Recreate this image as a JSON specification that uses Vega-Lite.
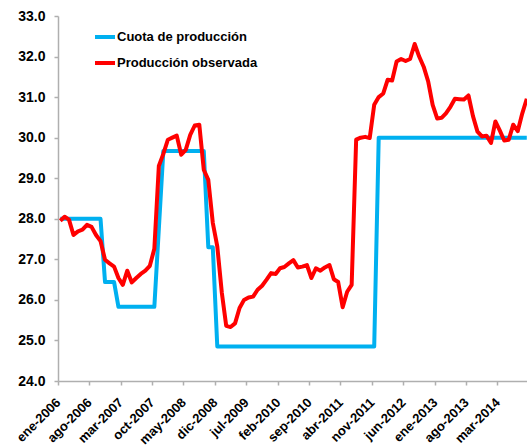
{
  "$schema": "https://vega.github.io/schema/vega-lite/v6.json",
  "width": 471,
  "height": 365,
  "autosize": "none",
  "padding": {"left": 58, "top": 16, "right": 0, "bottom": 66},
  "background": "white",
  "config": {
    "view": {"stroke": null},
    "font": "Liberation Sans",
    "axis": {
      "domainColor": "#AFAFAF",
      "tickColor": "#AFAFAF",
      "domainWidth": 1.5,
      "tickWidth": 1.5,
      "labelColor": "#000000",
      "labelFont": "Liberation Sans",
      "labelFontWeight": "bold",
      "grid": false,
      "title": null
    }
  },
  "data": {
    "values": [
      {"fecha": "2006-01", "cuota": 28.0, "observada": 27.95},
      {"fecha": "2006-02", "cuota": 28.0, "observada": 28.05},
      {"fecha": "2006-03", "cuota": 28.0, "observada": 27.98},
      {"fecha": "2006-04", "cuota": 28.0, "observada": 27.6},
      {"fecha": "2006-05", "cuota": 28.0, "observada": 27.69},
      {"fecha": "2006-06", "cuota": 28.0, "observada": 27.73},
      {"fecha": "2006-07", "cuota": 28.0, "observada": 27.85},
      {"fecha": "2006-08", "cuota": 28.0, "observada": 27.8},
      {"fecha": "2006-09", "cuota": 28.0, "observada": 27.6},
      {"fecha": "2006-10", "cuota": 28.0, "observada": 27.45},
      {"fecha": "2006-11", "cuota": 26.44, "observada": 26.99},
      {"fecha": "2006-12", "cuota": 26.44, "observada": 26.9},
      {"fecha": "2007-01", "cuota": 26.44, "observada": 26.82},
      {"fecha": "2007-02", "cuota": 25.83, "observada": 26.54},
      {"fecha": "2007-03", "cuota": 25.83, "observada": 26.37},
      {"fecha": "2007-04", "cuota": 25.83, "observada": 26.72},
      {"fecha": "2007-05", "cuota": 25.83, "observada": 26.43},
      {"fecha": "2007-06", "cuota": 25.83, "observada": 26.54},
      {"fecha": "2007-07", "cuota": 25.83, "observada": 26.64},
      {"fecha": "2007-08", "cuota": 25.83, "observada": 26.72},
      {"fecha": "2007-09", "cuota": 25.83, "observada": 26.84},
      {"fecha": "2007-10", "cuota": 25.83, "observada": 27.26},
      {"fecha": "2007-11", "cuota": 27.75, "observada": 29.3},
      {"fecha": "2007-12", "cuota": 29.67, "observada": 29.6},
      {"fecha": "2008-01", "cuota": 29.67, "observada": 29.95},
      {"fecha": "2008-02", "cuota": 29.67, "observada": 30.0},
      {"fecha": "2008-03", "cuota": 29.67, "observada": 30.05},
      {"fecha": "2008-04", "cuota": 29.67, "observada": 29.58},
      {"fecha": "2008-05", "cuota": 29.67, "observada": 29.7},
      {"fecha": "2008-06", "cuota": 29.67, "observada": 30.07},
      {"fecha": "2008-07", "cuota": 29.67, "observada": 30.3},
      {"fecha": "2008-08", "cuota": 29.67, "observada": 30.32},
      {"fecha": "2008-09", "cuota": 29.67, "observada": 29.21},
      {"fecha": "2008-10", "cuota": 27.3, "observada": 28.96},
      {"fecha": "2008-11", "cuota": 27.3, "observada": 27.9},
      {"fecha": "2008-12", "cuota": 24.85, "observada": 27.32},
      {"fecha": "2009-01", "cuota": 24.85, "observada": 26.17},
      {"fecha": "2009-02", "cuota": 24.85, "observada": 25.36},
      {"fecha": "2009-03", "cuota": 24.85, "observada": 25.33},
      {"fecha": "2009-04", "cuota": 24.85, "observada": 25.42},
      {"fecha": "2009-05", "cuota": 24.85, "observada": 25.8},
      {"fecha": "2009-06", "cuota": 24.85, "observada": 26.0},
      {"fecha": "2009-07", "cuota": 24.85, "observada": 26.06},
      {"fecha": "2009-08", "cuota": 24.85, "observada": 26.08},
      {"fecha": "2009-09", "cuota": 24.85, "observada": 26.25},
      {"fecha": "2009-10", "cuota": 24.85, "observada": 26.35},
      {"fecha": "2009-11", "cuota": 24.85, "observada": 26.5},
      {"fecha": "2009-12", "cuota": 24.85, "observada": 26.66},
      {"fecha": "2010-01", "cuota": 24.85, "observada": 26.64},
      {"fecha": "2010-02", "cuota": 24.85, "observada": 26.78},
      {"fecha": "2010-03", "cuota": 24.85, "observada": 26.81},
      {"fecha": "2010-04", "cuota": 24.85, "observada": 26.9},
      {"fecha": "2010-05", "cuota": 24.85, "observada": 26.98},
      {"fecha": "2010-06", "cuota": 24.85, "observada": 26.8},
      {"fecha": "2010-07", "cuota": 24.85, "observada": 26.82},
      {"fecha": "2010-08", "cuota": 24.85, "observada": 26.86},
      {"fecha": "2010-09", "cuota": 24.85, "observada": 26.54},
      {"fecha": "2010-10", "cuota": 24.85, "observada": 26.78},
      {"fecha": "2010-11", "cuota": 24.85, "observada": 26.72},
      {"fecha": "2010-12", "cuota": 24.85, "observada": 26.8},
      {"fecha": "2011-01", "cuota": 24.85, "observada": 26.86},
      {"fecha": "2011-02", "cuota": 24.85, "observada": 26.51},
      {"fecha": "2011-03", "cuota": 24.85, "observada": 26.44},
      {"fecha": "2011-04", "cuota": 24.85, "observada": 25.82},
      {"fecha": "2011-05", "cuota": 24.85, "observada": 26.2},
      {"fecha": "2011-06", "cuota": 24.85, "observada": 26.37},
      {"fecha": "2011-07", "cuota": 24.85, "observada": 29.95},
      {"fecha": "2011-08", "cuota": 24.85, "observada": 30.0},
      {"fecha": "2011-09", "cuota": 24.85, "observada": 30.02},
      {"fecha": "2011-10", "cuota": 24.85, "observada": 29.99},
      {"fecha": "2011-11", "cuota": 24.85, "observada": 30.81},
      {"fecha": "2011-12", "cuota": 30.0, "observada": 31.0},
      {"fecha": "2012-01", "cuota": 30.0, "observada": 31.09},
      {"fecha": "2012-02", "cuota": 30.0, "observada": 31.43},
      {"fecha": "2012-03", "cuota": 30.0, "observada": 31.41},
      {"fecha": "2012-04", "cuota": 30.0, "observada": 31.88},
      {"fecha": "2012-05", "cuota": 30.0, "observada": 31.94},
      {"fecha": "2012-06", "cuota": 30.0, "observada": 31.89},
      {"fecha": "2012-07", "cuota": 30.0, "observada": 31.94},
      {"fecha": "2012-08", "cuota": 30.0, "observada": 32.31},
      {"fecha": "2012-09", "cuota": 30.0, "observada": 32.0},
      {"fecha": "2012-10", "cuota": 30.0, "observada": 31.75},
      {"fecha": "2012-11", "cuota": 30.0, "observada": 31.39},
      {"fecha": "2012-12", "cuota": 30.0, "observada": 30.81},
      {"fecha": "2013-01", "cuota": 30.0, "observada": 30.47},
      {"fecha": "2013-02", "cuota": 30.0, "observada": 30.49},
      {"fecha": "2013-03", "cuota": 30.0, "observada": 30.6},
      {"fecha": "2013-04", "cuota": 30.0, "observada": 30.76},
      {"fecha": "2013-05", "cuota": 30.0, "observada": 30.96},
      {"fecha": "2013-06", "cuota": 30.0, "observada": 30.95},
      {"fecha": "2013-07", "cuota": 30.0, "observada": 30.94},
      {"fecha": "2013-08", "cuota": 30.0, "observada": 31.04},
      {"fecha": "2013-09", "cuota": 30.0, "observada": 30.53},
      {"fecha": "2013-10", "cuota": 30.0, "observada": 30.15},
      {"fecha": "2013-11", "cuota": 30.0, "observada": 30.03},
      {"fecha": "2013-12", "cuota": 30.0, "observada": 30.05},
      {"fecha": "2014-01", "cuota": 30.0, "observada": 29.87},
      {"fecha": "2014-02", "cuota": 30.0, "observada": 30.4},
      {"fecha": "2014-03", "cuota": 30.0, "observada": 30.18},
      {"fecha": "2014-04", "cuota": 30.0, "observada": 29.93},
      {"fecha": "2014-05", "cuota": 30.0, "observada": 29.95},
      {"fecha": "2014-06", "cuota": 30.0, "observada": 30.32},
      {"fecha": "2014-07", "cuota": 30.0, "observada": 30.16},
      {"fecha": "2014-08", "cuota": 30.0, "observada": 30.6},
      {"fecha": "2014-09", "cuota": 30.0, "observada": 30.96}
    ]
  },
  "transform": [
    {"fold": ["cuota", "observada"], "as": ["serie", "valor"]}
  ],
  "mark": {"type": "line", "strokeWidth": 4, "strokeJoin": "round", "strokeCap": "butt"},
  "encoding": {
    "x": {
      "field": "fecha",
      "type": "temporal",
      "timeUnit": "utcyearmonth",
      "bandPosition": 0.5,
      "scale": {
        "type": "utc",
        "domain": [
          {"year": 2006, "month": 1, "date": 1, "utc": true},
          {"year": 2014, "month": 10, "date": 1, "utc": true}
        ]
      },
      "axis": {
        "values": [
          {"year": 2006, "month": 1, "date": 1, "utc": true},
          {"year": 2006, "month": 8, "date": 1, "utc": true},
          {"year": 2007, "month": 3, "date": 1, "utc": true},
          {"year": 2007, "month": 10, "date": 1, "utc": true},
          {"year": 2008, "month": 5, "date": 1, "utc": true},
          {"year": 2008, "month": 12, "date": 1, "utc": true},
          {"year": 2009, "month": 7, "date": 1, "utc": true},
          {"year": 2010, "month": 2, "date": 1, "utc": true},
          {"year": 2010, "month": 9, "date": 1, "utc": true},
          {"year": 2011, "month": 4, "date": 1, "utc": true},
          {"year": 2011, "month": 11, "date": 1, "utc": true},
          {"year": 2012, "month": 6, "date": 1, "utc": true},
          {"year": 2013, "month": 1, "date": 1, "utc": true},
          {"year": 2013, "month": 8, "date": 1, "utc": true},
          {"year": 2014, "month": 3, "date": 1, "utc": true}
        ],
        "labelExpr": "['ene','feb','mar','abr','may','jun','jul','ago','sep','oct','nov','dic'][utcmonth(datum.value)] + '-' + utcyear(datum.value)",
        "labelAngle": -45,
        "labelAlign": "right",
        "labelBaseline": "middle",
        "labelFontSize": 13,
        "labelPadding": 15,
        "tickSize": 4,
        "labelOverlap": false,
        "labelBound": false,
        "labelFlush": false
      }
    },
    "y": {
      "field": "valor",
      "type": "quantitative",
      "scale": {"domain": [24, 33], "nice": false, "zero": false},
      "axis": {
        "values": [24, 25, 26, 27, 28, 29, 30, 31, 32, 33],
        "format": ".1f",
        "labelFontSize": 14,
        "labelPadding": 9,
        "tickSize": 4
      }
    },
    "color": {
      "field": "serie",
      "type": "nominal",
      "scale": {"domain": ["cuota", "observada"], "range": ["#00B0F0", "#FF0000"]},
      "legend": {
        "title": null,
        "orient": "none",
        "legendX": 35,
        "legendY": 9,
        "padding": 0,
        "symbolType": "stroke",
        "symbolSize": 400,
        "symbolStrokeWidth": 4,
        "labelExpr": "datum.label == 'cuota' ? 'Cuota de producción' : 'Producción observada'",
        "labelFont": "Liberation Sans",
        "labelFontWeight": "bold",
        "labelFontSize": 13,
        "labelColor": "#000000",
        "labelOffset": 0,
        "rowPadding": 6,
        "labelLimit": 300
      }
    }
  }
}
